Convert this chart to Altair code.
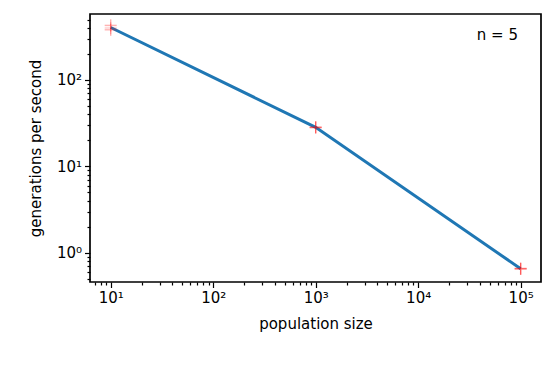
import altair as alt
import pandas as pd

# data
pop_sizes = [10, 1000, 100000]
line_gps = [405, 28.3, 0.655]                      # blue line
run_pop = [10, 10, 10, 10, 10, 1000, 1000, 1000, 1000, 1000,
           100000, 100000, 100000, 100000, 100000]
run_gps = [432, 425, 400, 385, 378, 28.6, 28.4, 28.3, 28.1, 28.0,
           0.66, 0.66, 0.655, 0.65, 0.65]
annotation = "n = 5"

x_ticks = [m * 10 ** k for k in range(0, 6) for m in range(1, 10)
           if 7 <= m * 10 ** k <= 150000]
y_ticks = [0.5, 0.6, 0.7, 0.8, 0.9] + [m * 10 ** k for k in range(0, 3)
                                        for m in range(1, 10)
                                        if m * 10 ** k <= 500]

line_df = pd.DataFrame({"pop": pop_sizes, "gps": line_gps})
run_df = pd.DataFrame({"pop": run_pop, "gps": run_gps})

FONT = "DejaVu Sans"
FS = 15
is_major = "abs(log(datum.value)/LN10 - round(log(datum.value)/LN10)) < 1e-6"
sup = "['⁰','¹','²','³','⁴','⁵','⁶'][round(log(datum.value)/LN10)]"
label_expr = f"({is_major}) ? '10' + {sup} : ''"
tick_size = {"condition": {"test": is_major, "value": 5.5}, "value": 3}

common = dict(labelExpr=label_expr, tickSize=tick_size,
              labelOverlap=False, domain=False, grid=False,
              tickColor="black", tickWidth=1.2, labelPadding=3,
              labelFont=FONT, labelFontSize=FS, labelColor="black",
              titleFont=FONT, titleFontSize=FS, titleFontWeight="normal",
              titleColor="black", titleBaseline="middle", titleAlign="center")

x_axis = alt.Axis(values=x_ticks, title="population size",
                  titleY=41, titleX=225.5, **common)
y_axis = alt.Axis(values=y_ticks, title="generations per second",
                  titleAngle=-90, titleX=-55, titleY=134, **common)

x_scale = alt.Scale(type="log", domain=[6.28, 158000], nice=False)
y_scale = alt.Scale(type="log", domain=[0.46, 580], nice=False)

line = alt.Chart(line_df).mark_line(color="#1f77b4", strokeWidth=3).encode(
    x=alt.X("pop:Q", scale=x_scale, axis=x_axis),
    y=alt.Y("gps:Q", scale=y_scale, axis=y_axis),
)

plus = "M-1,0L1,0M0,-1L0,1"
points = alt.Chart(run_df).mark_point(
    shape=plus, size=144, filled=False, color="red", opacity=0.18,
    strokeWidth=1.3
).encode(
    x=alt.X("pop:Q", scale=x_scale),
    y=alt.Y("gps:Q", scale=y_scale),
)

text = alt.Chart(pd.DataFrame({"t": [annotation]})).mark_text(
    align="right", baseline="middle", font=FONT, fontSize=FS, color="black"
).encode(x=alt.value(428), y=alt.value(21), text="t:N")

chart = alt.layer(line, points, text).properties(
    width=451, height=268,
    autosize=alt.AutoSizeParams(type="none"),
    padding={"left": 82, "top": 6, "right": 5, "bottom": 60},
).configure(
    background="white",
    view=alt.ViewConfig(stroke="black", strokeWidth=1.7),
)

chart.save("out.html", embed_options={"renderer": "svg", "actions": False})
